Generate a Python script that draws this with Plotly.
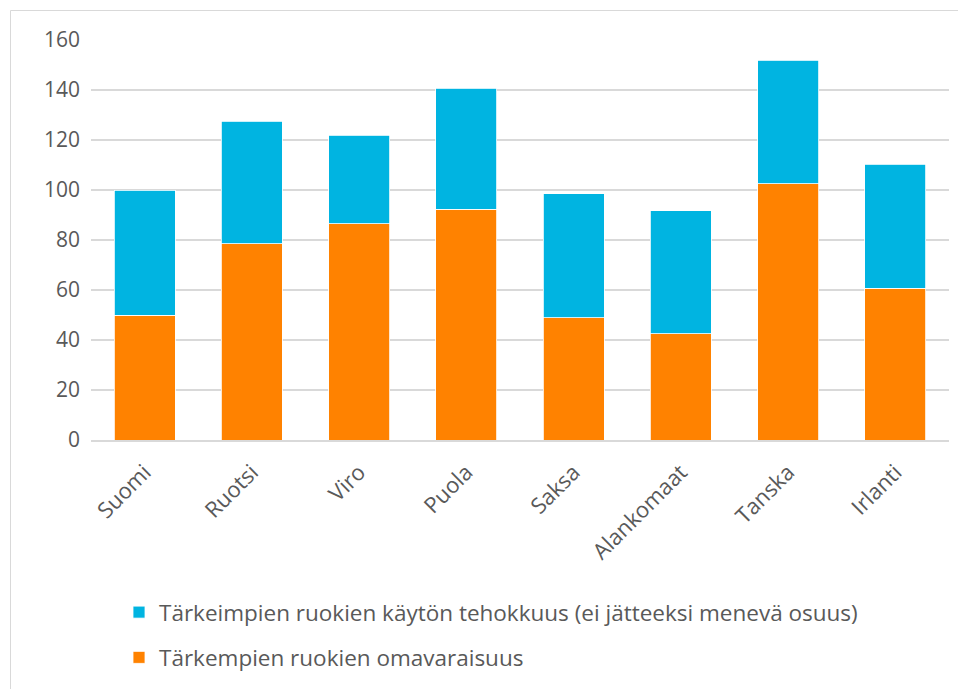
import plotly.graph_objects as go

maat = ["Suomi", "Ruotsi", "Viro", "Puola", "Saksa", "Alankomaat", "Tanska", "Irlanti"]
omavaraisuus = [50, 78.6, 86.6, 92.4, 49, 42.5, 102.5, 60.8]
tehokkuus = [50, 49, 35.4, 48.4, 49.5, 49.2, 49.5, 49.6]
y_ticks = [0, 20, 40, 60, 80, 100, 120, 140, 160]

name_blue = "Tärkeimpien ruokien käytön tehokkuus (ei jätteeksi menevä osuus)"
name_orange = "Tärkempien ruokien omavaraisuus"

fig = go.Figure()
fig.add_trace(go.Bar(x=maat, y=omavaraisuus, name=name_orange, legendgroup="a", legendrank=2,
                     marker=dict(color="#FF8200", line=dict(color="#ffffff", width=0.8))))
fig.add_trace(go.Bar(x=maat, y=tehokkuus, name=name_blue, legendgroup="b", legendrank=1,
                     marker=dict(color="#00B4E1", line=dict(color="#ffffff", width=0.8))))

# page body has an 8px margin, so the figure is shrunk and coords shifted
OFF = 8
W, H = 966 - OFF, 689 - OFF
ml, mr, mt, mb = 91 - OFF, 17, 40 - OFF, 249
pw, ph = W - ml - mr, H - mt - mb


def px(x):
    return (x - OFF - ml) / pw


def py(y):
    return (H - mb - (y - OFF)) / ph


fig.update_layout(
    barmode="stack",
    bargap=0.43,
    width=W, height=H,
    margin=dict(l=ml, r=mr, t=mt, b=mb, autoexpand=False),
    plot_bgcolor="white",
    paper_bgcolor="white",
    font=dict(family="Open Sans, Noto Sans, sans-serif", size=21, color="#595959"),
    xaxis=dict(tickangle=-45, showgrid=False, showline=True, linecolor="#d9d9d9",
               linewidth=1.5, ticks="", tickfont=dict(size=22),
               ticklabelstandoff=9),
    yaxis=dict(range=[0, 160], tickvals=y_ticks, showgrid=True, gridcolor="#d9d9d9",
               gridwidth=1.5, zeroline=False, ticks="", tickfont=dict(size=21),
               ticklabelstandoff=10),
    legend=dict(orientation="v", x=px(119), y=py(591), xanchor="left", yanchor="top",
                traceorder="grouped", font=dict(size=22.5, color="#595959"),
                tracegroupgap=13, itemwidth=30),
    showlegend=True,
    shapes=[dict(type="rect", xref="paper", yref="paper",
                 x0=px(10.5), x1=px(1000), y0=py(720), y1=py(10.5),
                 line=dict(color="#d9d9d9", width=1), layer="below")],
)

fig.write_html("out.html")
